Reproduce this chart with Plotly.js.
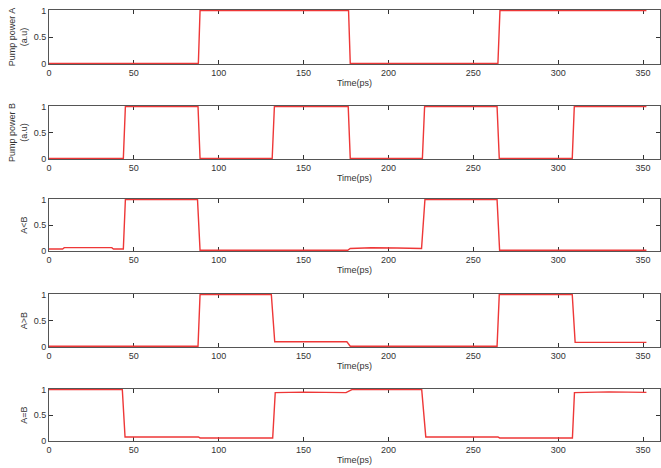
<!DOCTYPE html>
<html>
<head>
<meta charset="utf-8">
<script src="https://cdn.plot.ly/plotly-3.0.1.min.js"></script>
<style>html,body{margin:0;padding:0;background:#fff;}#chart{width:661px;height:468px;}</style>
</head>
<body>
<div id="chart"></div>
<script>
// Time breakpoints (ps) and normalized values
const tPumpA = [0, 88, 89, 176.5, 177.5, 264.5, 265.7, 352];
const vPumpA = [0, 0, 1, 1, 0, 0, 1, 1];

const tPumpB = [0, 43.8, 45, 87.8, 89, 131.5, 132.8, 176.3, 177.5, 220, 221.3, 264, 265.3, 308.3, 309.5, 352];
const vPumpB = [0, 0, 1, 1, 0, 0, 1, 1, 0, 0, 1, 1, 0, 0, 1, 1];

const tAltB = [0, 8, 9, 37, 38, 43.8, 45, 87.5, 89, 176, 177.5, 190, 205, 219.5, 221.5, 264, 265.5, 352];
const vAltB = [0.03, 0.03, 0.057, 0.057, 0.03, 0.03, 1, 1, 0.004, 0.004, 0.04, 0.055, 0.05, 0.04, 1, 1, 0.004, 0.004];

const tAgtB = [0, 87.8, 89, 131, 133, 175.5, 177.5, 264, 265.3, 308.3, 310, 352];
const vAgtB = [0.005, 0.005, 1, 1, 0.09, 0.09, 0.005, 0.005, 1, 1, 0.08, 0.08];

const tAeqB = [0, 43.2, 44.8, 88, 89, 131.8, 133.3, 150, 175, 178.5, 219.6, 222, 264.5, 265.5, 308.4, 309.6, 330, 352];
const vAeqB = [1, 1, 0.07, 0.07, 0.05, 0.05, 0.94, 0.95, 0.94, 1, 1, 0.07, 0.07, 0.05, 0.05, 0.94, 0.955, 0.945];

const yTitles = ['Pump power A<br>(a.u)', 'Pump power B<br>(a.u)', 'A&lt;B', 'A&gt;B', 'A=B'];
const xTitle = 'Time(ps)';
const xTickVals = [0, 50, 100, 150, 200, 250, 300, 350];
const yTickVals = [0, 0.5, 1];
const yTickText = ['0', '0.5', '1'];

const series = [[tPumpA, vPumpA], [tPumpB, vPumpB], [tAltB, vAltB], [tAgtB, vAgtB], [tAeqB, vAeqB]];

// panel vertical extents in pixels (top, bottom)
const H = 468;
const panelsPx = [[10, 64], [106, 159], [199, 251], [294, 347], [389, 441]];

const font = {family: 'Liberation Sans, Arial, sans-serif', size: 9, color: '#333'};
const traces = [];
const layout = {
  width: 661, height: 468,
  margin: {l: 49, r: 1, t: 0, b: 0, autoexpand: false},
  paper_bgcolor: '#fff', plot_bgcolor: '#fff',
  showlegend: false,
  font: font
};

series.forEach((s, i) => {
  const n = i === 0 ? '' : String(i + 1);
  traces.push({
    x: s[0], y: s[1], type: 'scatter', mode: 'lines',
    xaxis: 'x' + n, yaxis: 'y' + n,
    line: {color: 'rgb(238,55,55)', width: 1.4},
    hoverinfo: 'skip'
  });
  const p = panelsPx[i];
  layout['xaxis' + n] = {
    anchor: 'y' + n, range: [0, 360], tickvals: xTickVals,
    ticks: 'inside', ticklen: 4, tickwidth: 1, tickcolor: '#333',
    showline: true, linecolor: '#555', linewidth: 1, mirror: 'allticks',
    showgrid: false, zeroline: false, layer: 'below traces',
    tickfont: font,
    title: {text: xTitle, font: font, standoff: 2}
  };
  layout['yaxis' + n] = {
    anchor: 'x' + n, domain: [1 - p[1] / H, 1 - p[0] / H],
    range: [-0.01, 1.012], tickvals: yTickVals, ticktext: yTickText,
    ticks: 'inside', ticklen: 4, tickwidth: 1, tickcolor: '#333',
    showline: true, linecolor: '#555', linewidth: 1, mirror: 'allticks',
    showgrid: false, zeroline: false, layer: 'below traces',
    tickfont: font,
    title: {text: yTitles[i], font: font, standoff: 4}
  };
});

Plotly.newPlot('chart', traces, layout, {displayModeBar: false, staticPlot: true});
</script>
</body>
</html>
